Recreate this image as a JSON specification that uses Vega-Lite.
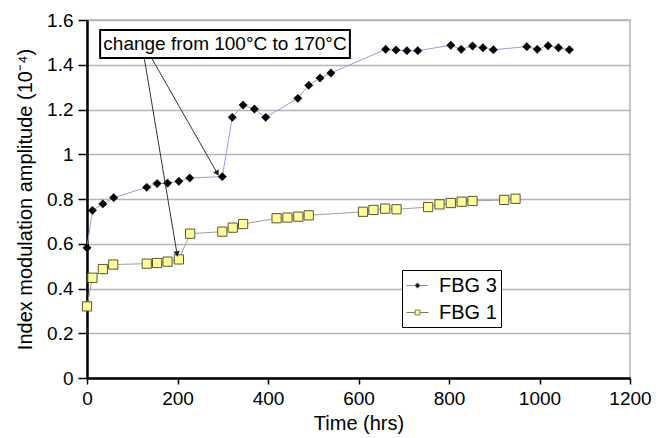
{
  "$schema": "https://vega.github.io/schema/vega-lite/v6.json",
  "width": 543,
  "height": 358,
  "autosize": "none",
  "padding": {"left": 87, "top": 20, "right": 32, "bottom": 60},
  "background": "white",
  "config": {
    "font": "Liberation Sans",
    "view": {"stroke": "#b4b4b4", "strokeWidth": 1.5},
    "axis": {
      "labelFont": "Liberation Sans",
      "titleFont": "Liberation Sans",
      "labelFontSize": 19,
      "titleFontSize": 20,
      "titleFontWeight": "normal",
      "labelColor": "black",
      "titleColor": "black",
      "domainColor": "black",
      "domainWidth": 2.5,
      "tickColor": "black",
      "tickWidth": 1.5,
      "labelFlush": false
    }
  },
  "datasets": {
    "series": [
      {"series": "FBG 3", "time": 0, "amp": 0.582},
      {"series": "FBG 3", "time": 12, "amp": 0.749},
      {"series": "FBG 3", "time": 35, "amp": 0.778},
      {"series": "FBG 3", "time": 59, "amp": 0.806},
      {"series": "FBG 3", "time": 132, "amp": 0.852},
      {"series": "FBG 3", "time": 155, "amp": 0.869},
      {"series": "FBG 3", "time": 178, "amp": 0.871},
      {"series": "FBG 3", "time": 203, "amp": 0.879},
      {"series": "FBG 3", "time": 227, "amp": 0.894},
      {"series": "FBG 3", "time": 299, "amp": 0.9},
      {"series": "FBG 3", "time": 321, "amp": 1.165},
      {"series": "FBG 3", "time": 345, "amp": 1.22},
      {"series": "FBG 3", "time": 370, "amp": 1.202},
      {"series": "FBG 3", "time": 395, "amp": 1.165},
      {"series": "FBG 3", "time": 466, "amp": 1.25},
      {"series": "FBG 3", "time": 490, "amp": 1.308},
      {"series": "FBG 3", "time": 515, "amp": 1.341},
      {"series": "FBG 3", "time": 539, "amp": 1.363},
      {"series": "FBG 3", "time": 660, "amp": 1.469},
      {"series": "FBG 3", "time": 683, "amp": 1.466},
      {"series": "FBG 3", "time": 707, "amp": 1.463},
      {"series": "FBG 3", "time": 731, "amp": 1.463},
      {"series": "FBG 3", "time": 804, "amp": 1.487},
      {"series": "FBG 3", "time": 827, "amp": 1.469},
      {"series": "FBG 3", "time": 852, "amp": 1.484},
      {"series": "FBG 3", "time": 875, "amp": 1.476},
      {"series": "FBG 3", "time": 898, "amp": 1.467},
      {"series": "FBG 3", "time": 972, "amp": 1.481},
      {"series": "FBG 3", "time": 995, "amp": 1.469},
      {"series": "FBG 3", "time": 1019, "amp": 1.485},
      {"series": "FBG 3", "time": 1042, "amp": 1.476},
      {"series": "FBG 3", "time": 1066, "amp": 1.467},
      {"series": "FBG 1", "time": 0, "amp": 0.32},
      {"series": "FBG 1", "time": 12, "amp": 0.448},
      {"series": "FBG 1", "time": 35, "amp": 0.487},
      {"series": "FBG 1", "time": 58, "amp": 0.507},
      {"series": "FBG 1", "time": 132, "amp": 0.511},
      {"series": "FBG 1", "time": 155, "amp": 0.514},
      {"series": "FBG 1", "time": 178, "amp": 0.52},
      {"series": "FBG 1", "time": 203, "amp": 0.53},
      {"series": "FBG 1", "time": 228, "amp": 0.645},
      {"series": "FBG 1", "time": 299, "amp": 0.654},
      {"series": "FBG 1", "time": 322, "amp": 0.672},
      {"series": "FBG 1", "time": 345, "amp": 0.688},
      {"series": "FBG 1", "time": 419, "amp": 0.714},
      {"series": "FBG 1", "time": 443, "amp": 0.717},
      {"series": "FBG 1", "time": 467, "amp": 0.721},
      {"series": "FBG 1", "time": 490, "amp": 0.727},
      {"series": "FBG 1", "time": 610, "amp": 0.743},
      {"series": "FBG 1", "time": 633, "amp": 0.751},
      {"series": "FBG 1", "time": 659, "amp": 0.757},
      {"series": "FBG 1", "time": 684, "amp": 0.754},
      {"series": "FBG 1", "time": 754, "amp": 0.764},
      {"series": "FBG 1", "time": 779, "amp": 0.776},
      {"series": "FBG 1", "time": 804, "amp": 0.782},
      {"series": "FBG 1", "time": 828, "amp": 0.788},
      {"series": "FBG 1", "time": 852, "amp": 0.791},
      {"series": "FBG 1", "time": 922, "amp": 0.796},
      {"series": "FBG 1", "time": 947, "amp": 0.801}
    ],
    "arrows": [
      {"xs": 126.6, "ys": 1.429, "xe": 199, "ye": 0.554, "angle": 170.4},
      {"xs": 143, "ys": 1.429, "xe": 288, "ye": 0.915, "angle": 150.3}
    ],
    "note": [
      {"label": "change from 100°C to 170°C", "xa": 29, "xb": 581, "ya": 1.43, "yb": 1.555, "xc": 305, "yc": 1.492}
    ]
  },
  "layer": [
    {
      "data": {"name": "series"},
      "transform": [{"filter": "datum.series === 'FBG 3'"}],
      "mark": {"type": "line", "color": "#9c9cdc", "strokeWidth": 1},
      "encoding": {
        "x": {"field": "time", "type": "quantitative", "scale": {"domain": [0, 1200]},
          "axis": {"values": [0, 200, 400, 600, 800, 1000, 1200], "format": "d", "grid": false, "title": "Time (hrs)", "tickSize": 6, "labelPadding": 5, "titlePadding": 5}},
        "y": {"field": "amp", "type": "quantitative", "scale": {"domain": [0, 1.6]},
          "axis": {"values": [0, 0.2, 0.4, 0.6, 0.8, 1, 1.2, 1.4, 1.6], "format": "~g", "grid": true, "gridColor": "#b4b4b4", "gridWidth": 1.5, "title": "Index modulation amplitude (10⁻⁴)", "tickSize": 9, "labelPadding": 5, "titlePadding": 11}}
      }
    },
    {
      "data": {"name": "series"},
      "transform": [{"filter": "datum.series === 'FBG 1'"}],
      "mark": {"type": "line", "color": "#a0a0a0", "strokeWidth": 1},
      "encoding": {
        "x": {"field": "time", "type": "quantitative"},
        "y": {"field": "amp", "type": "quantitative"}
      }
    },
    {
      "data": {"name": "series"},
      "transform": [{"filter": "datum.series === 'FBG 3'"}],
      "mark": {"type": "point", "shape": "diamond", "filled": true, "fill": "black", "stroke": "black", "strokeWidth": 0.5, "size": 70, "opacity": 1},
      "encoding": {
        "x": {"field": "time", "type": "quantitative"},
        "y": {"field": "amp", "type": "quantitative"}
      }
    },
    {
      "data": {"name": "series"},
      "transform": [{"filter": "datum.series === 'FBG 1'"}],
      "mark": {"type": "point", "shape": "square", "filled": true, "fill": "#ffff99", "stroke": "#555533", "strokeWidth": 1, "size": 85, "opacity": 1},
      "encoding": {
        "x": {"field": "time", "type": "quantitative"},
        "y": {"field": "amp", "type": "quantitative"}
      }
    },
    {
      "data": {"name": "arrows"},
      "mark": {"type": "rule", "color": "#333333", "strokeWidth": 1},
      "encoding": {
        "x": {"field": "xs", "type": "quantitative"},
        "y": {"field": "ys", "type": "quantitative"},
        "x2": {"field": "xe"},
        "y2": {"field": "ye"}
      }
    },
    {
      "data": {"name": "arrows"},
      "mark": {"type": "point", "shape": "triangle-up", "filled": true, "fill": "#222222", "size": 40, "opacity": 1},
      "encoding": {
        "x": {"field": "xe", "type": "quantitative"},
        "y": {"field": "ye", "type": "quantitative"},
        "angle": {"field": "angle", "type": "quantitative", "scale": null}
      }
    },
    {
      "data": {"name": "note"},
      "mark": {"type": "rect", "fill": "white", "stroke": "black", "strokeWidth": 2},
      "encoding": {
        "x": {"field": "xa", "type": "quantitative"},
        "x2": {"field": "xb"},
        "y": {"field": "ya", "type": "quantitative"},
        "y2": {"field": "yb"}
      }
    },
    {
      "data": {"name": "note"},
      "mark": {"type": "text", "fontSize": 19, "font": "Liberation Sans", "color": "black", "align": "center", "baseline": "middle"},
      "encoding": {
        "x": {"field": "xc", "type": "quantitative"},
        "y": {"field": "yc", "type": "quantitative"},
        "text": {"field": "label"}
      }
    },
    {
      "data": {"name": "series"},
      "transform": [{"filter": "false"}],
      "mark": {"type": "point", "filled": true, "size": 484, "opacity": 1, "strokeWidth": 1},
      "encoding": {
        "x": {"field": "time", "type": "quantitative"},
        "y": {"field": "amp", "type": "quantitative"},
        "shape": {"field": "series", "type": "nominal",
          "scale": {"domain": ["FBG 3", "FBG 1"], "range": ["M-1,0H-0.24M0.24,0H1M0,-0.24L0.24,0L0,0.24L-0.24,0Z", "M-1,0H-0.22M0.22,0H1M-0.22,-0.22H0.22V0.22H-0.22Z"]},
          "legend": {"title": null, "orient": "none", "legendX": 315, "legendY": 250, "strokeColor": "black", "padding": 4, "fillColor": "white", "labelFontSize": 20, "labelFont": "Liberation Sans", "labelColor": "black", "symbolSize": 484, "symbolStrokeWidth": 1, "rowPadding": 5, "labelOffset": 10}},
        "fill": {"field": "series", "type": "nominal", "scale": {"domain": ["FBG 3", "FBG 1"], "range": ["black", "#ffff99"]}, "legend": {"title": null, "orient": "none", "legendX": 315, "legendY": 250, "strokeColor": "black", "padding": 4, "fillColor": "white", "labelFontSize": 20, "labelFont": "Liberation Sans", "labelColor": "black", "symbolSize": 484, "symbolStrokeWidth": 1, "rowPadding": 5, "labelOffset": 10}},
        "stroke": {"field": "series", "type": "nominal", "scale": {"domain": ["FBG 3", "FBG 1"], "range": ["#8a8ad0", "#777755"]}, "legend": {"title": null, "orient": "none", "legendX": 315, "legendY": 250, "strokeColor": "black", "padding": 4, "fillColor": "white", "labelFontSize": 20, "labelFont": "Liberation Sans", "labelColor": "black", "symbolSize": 484, "symbolStrokeWidth": 1, "rowPadding": 5, "labelOffset": 10}}
      }
    }
  ]
}
